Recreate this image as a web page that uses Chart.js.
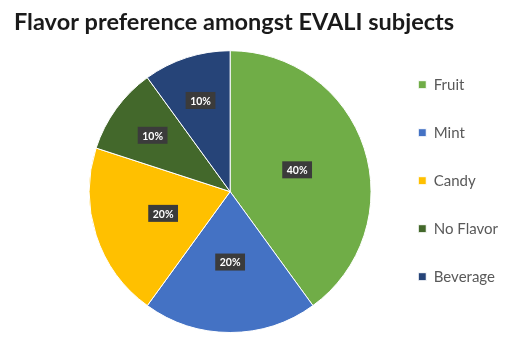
<!DOCTYPE html>
<html>
<head>
<meta charset="utf-8">
<script src="https://cdn.jsdelivr.net/npm/chart.js@4"></script>
<style>
  html, body { margin: 0; padding: 0; background: #fff; }
  #wrap { width: 508px; height: 345px; }
</style>
</head>
<body>
<div id="wrap"><canvas id="flavorChart" width="508" height="345"></canvas></div>
<script>
const flavors = ['Fruit', 'Mint', 'Candy', 'No Flavor', 'Beverage'];
const shares = [40, 20, 20, 10, 10];
const sliceColors = ['#70AD47', '#4472C4', '#FFC000', '#43682B', '#264478'];

// label boxes like excel's "best fit" data labels
const pctLabels = {
    id: 'pctLabels',
    afterLayout(chart) {
        // keep the title at the left edge while the pie sits further right
        if (chart.titleBlock) chart.titleBlock.left = 14;
    },
    afterDatasetsDraw(chart, args, opts) {
        const ctx = chart.ctx;
        const meta = chart.getDatasetMeta(0);
        const total = shares.reduce((a, b) => a + b, 0);
        ctx.save();
        ctx.font = 'bold 10.5px Lato';
        ctx.textAlign = 'center';
        ctx.textBaseline = 'middle';
        meta.data.forEach((arc, i) => {
            const mid = (arc.startAngle + arc.endAngle) / 2;
            const r = arc.outerRadius * opts.radius[i];
            const x = arc.x + Math.cos(mid) * r;
            const y = arc.y + Math.sin(mid) * r;
            const txt = Math.round(shares[i] / total * 100) + '%';
            const w = ctx.measureText(txt).width + 9;
            ctx.fillStyle = '#3b3b3b';
            ctx.fillRect(x - w / 2, y - 8.5, w, 17);
            ctx.fillStyle = '#ffffff';
            ctx.fillText(txt, x, y + 1);
        });
        ctx.restore();
    }
};

const flavorCtx = document.getElementById('flavorChart').getContext('2d');
const flavorChart = new Chart(flavorCtx, {
    type: 'pie',
    data: {
        labels: flavors,
        datasets: [{
            data: shares,
            backgroundColor: sliceColors,
            borderColor: '#ffffff',
            borderWidth: 1
        }]
    },
    options: {
        responsive: false,
        animation: false,
        layout: { padding: { left: 75, right: 0, top: 0, bottom: 12 } },
        plugins: {
            title: {
                display: true,
                text: 'Flavor preference amongst EVALI subjects',
                align: 'start',
                color: '#1a1a1a',
                font: { family: 'Lato', size: 23.5, weight: 'bold' },
                padding: { top: 8, bottom: 14 }
            },
            legend: {
                position: 'right',
                title: { display: true, text: ' ', padding: 7 },
                labels: {
                    boxWidth: 8,
                    boxHeight: 8,
                    padding: 33,
                    color: '#595959',
                    font: { family: 'Lato', size: 15 }
                }
            },
            tooltip: { enabled: false },
            pctLabels: { radius: [0.5, 0.5, 0.5, 0.68, 0.68] }
        }
    },
    plugins: [pctLabels]
});
</script>
</body>
</html>
